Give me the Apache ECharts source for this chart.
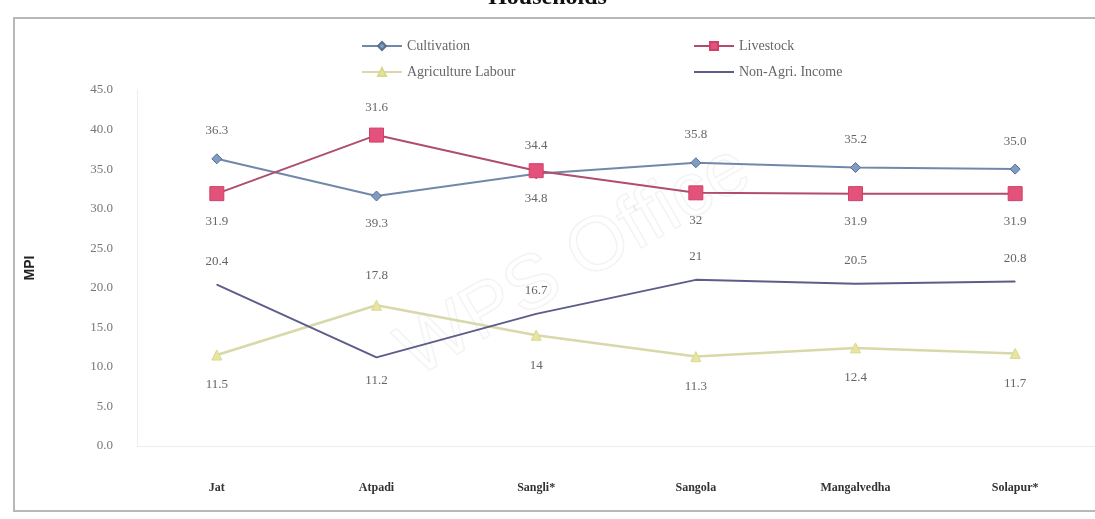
<!DOCTYPE html>
<html>
<head>
<meta charset="utf-8">
<title>Households</title>
<script src="https://cdn.jsdelivr.net/npm/echarts@6/dist/echarts.min.js"></script>
<style>
  html, body { margin: 0; padding: 0; background: #fff; }
  #chart { width: 1095px; height: 519px; }
</style>
</head>
<body>
<div id="chart"></div>
<script>
// talukas / districts on the x axis
var categories = ['Jat', 'Atpadi', 'Sangli*', 'Sangola', 'Mangalvedha', 'Solapur*']

// MPI values per livelihood
var cultivation = [36.3, 31.6, 34.4, 35.8, 35.2, 35.0]
var livestock = [31.9, 39.3, 34.8, 32, 31.9, 31.9]
var agriLabour = [11.5, 17.8, 14, 11.3, 12.4, 11.7]
var nonAgri = [20.4, 11.2, 16.7, 21, 20.5, 20.8]

// data labels as they are printed next to each point
var cultivationText = ['36.3', '39.3', '34.4', '35.8', '35.2', '35.0']
var livestockText = ['31.9', '31.6', '34.8', '32', '31.9', '31.9']
var agriLabourText = ['11.5', '17.8', '14', '11.3', '12.4', '11.7']
var nonAgriText = ['20.4', '11.2', '16.7', '21', '20.5', '20.8']

var cultivationPos = ['top', 'bottom', 'top', 'top', 'top', 'top']
var livestockPos = ['bottom', 'top', 'bottom', 'bottom', 'bottom', 'bottom']
var agriLabourPos = ['bottom', 'top', 'bottom', 'bottom', 'bottom', 'bottom']
var nonAgriPos = ['top', 'bottom', 'top', 'top', 'top', 'top']

var yTicks = { min: 0, max: 45, interval: 5 }

var serif = 'Liberation Serif'

function points(values, texts, pos) {
  return values.map(function (v, i) {
    return {
      value: v,
      label: { position: pos[i], formatter: texts[i] }
    }
  })
}

function makeLegend(name, left, top, extra) {
  var lg = {
    data: [name],
    left: left,
    top: top,
    itemWidth: 40,
    itemHeight: 10,
    itemGap: 4,
    textStyle: { fontFamily: serif, fontSize: 14, color: '#666' }
  }
  if (extra) {
    Object.assign(lg, extra)
  }
  return lg
}

var chart = echarts.init(document.getElementById('chart'), null, { renderer: 'canvas' })

chart.setOption({
  animation: false,
  backgroundColor: '#fff',
  title: {
    text: 'Households',
    left: 'center',
    top: -19,
    textStyle: { fontFamily: serif, fontSize: 24, fontWeight: 'bold', color: '#111' }
  },
  graphic: [
    {
      type: 'rect',
      shape: { x: 14, y: 18, width: 1100, height: 493 },
      style: { fill: 'none', stroke: '#b8b8b8', lineWidth: 2 },
      silent: true
    },
    {
      type: 'text',
      x: 575,
      y: 262,
      rotation: Math.PI / 6,
      style: {
        text: 'WPS Office',
        font: '76px "Liberation Sans"',
        fill: 'rgba(0,0,0,0)',
        stroke: 'rgba(120,120,120,0.09)',
        lineWidth: 1.5,
        align: 'center',
        verticalAlign: 'middle'
      },
      silent: true,
      z: -1
    }
  ],
  legend: [
    makeLegend('Cultivation', 356, 34),
    makeLegend('Livestock', 688, 34),
    makeLegend('Agriculture Labour', 356, 60),
    // plain line in the key, no marker
    makeLegend('Non-Agri. Income', 688, 60, { itemStyle: { opacity: 0 } })
  ],
  grid: {
    left: 137,
    right: 0,
    top: 90,
    bottom: 73
  },
  xAxis: {
    type: 'category',
    boundaryGap: true,
    data: categories,
    axisLine: { lineStyle: { color: '#ececec' } },
    axisTick: { show: false },
    axisLabel: {
      margin: 36,
      fontFamily: serif,
      fontSize: 12,
      fontWeight: 'bold',
      color: '#333'
    }
  },
  yAxis: {
    type: 'value',
    min: yTicks.min,
    max: yTicks.max,
    interval: yTicks.interval,
    name: 'MPI',
    nameLocation: 'middle',
    nameGap: 100,
    nameTextStyle: { fontFamily: 'Liberation Sans', fontSize: 14, fontWeight: 'bold', color: '#222' },
    axisLine: { show: true, lineStyle: { color: '#ececec' } },
    axisTick: { show: false },
    splitLine: { show: false },
    axisLabel: {
      margin: 24,
      fontFamily: serif,
      fontSize: 13,
      color: '#777',
      formatter: function (v) { return v.toFixed(1) }
    }
  },
  series: [
    {
      name: 'Cultivation',
      type: 'line',
      data: points(cultivation, cultivationText, cultivationPos),
      symbol: 'diamond',
      symbolSize: 10,
      itemStyle: { color: '#7f9cc4', borderColor: '#5a6f8e', borderWidth: 1 },
      lineStyle: { color: '#7089ab', width: 2 },
      label: { show: true, distance: 16, fontFamily: serif, fontSize: 13, color: '#666' }
    },
    {
      name: 'Livestock',
      type: 'line',
      data: points(livestock, livestockText, livestockPos),
      symbol: 'rect',
      symbolSize: 14,
      itemStyle: { color: '#e2527a', borderColor: '#d04068', borderWidth: 1 },
      lineStyle: { color: '#b04d6e', width: 2 },
      label: { show: true, distance: 14, fontFamily: serif, fontSize: 13, color: '#666' }
    },
    {
      name: 'Agriculture Labour',
      type: 'line',
      data: points(agriLabour, agriLabourText, agriLabourPos),
      symbol: 'triangle',
      symbolSize: 10,
      itemStyle: { color: '#e6e6a2', borderColor: '#d9d98c', borderWidth: 1 },
      lineStyle: { color: '#d8d8aa', width: 2.5 },
      label: { show: true, distance: 18, fontFamily: serif, fontSize: 13, color: '#666' }
    },
    {
      name: 'Non-Agri. Income',
      type: 'line',
      data: points(nonAgri, nonAgriText, nonAgriPos),
      // tiny marker only so the labels can be attached
      symbol: 'circle',
      symbolSize: 1,
      itemStyle: { color: '#5d5d8a' },
      lineStyle: { color: '#5d5d8a', width: 2 },
      label: { show: true, distance: 16, fontFamily: serif, fontSize: 13, color: '#666' }
    }
  ]
})
</script>
</body>
</html>
